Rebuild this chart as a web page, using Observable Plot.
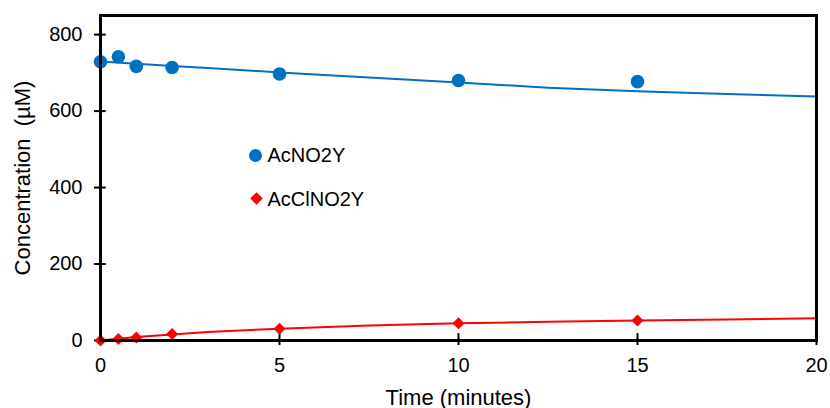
<!DOCTYPE html>
<html>
<head>
<meta charset="utf-8">
<script src="https://cdn.jsdelivr.net/npm/d3@7"></script>
<script src="https://cdn.jsdelivr.net/npm/@observablehq/plot@0.6"></script>
<style>
  html, body { margin: 0; padding: 0; background: #fff; }
  #chart { width: 830px; height: 408px; }
  svg { font-family: Arial, "Liberation Sans", sans-serif; }
</style>
</head>
<body>
<div id="chart"></div>
<script>
// Measured data points
const timePts = [0, 0.5, 1, 2, 5, 10, 15];
const acNO2Y = [729, 742, 717, 714, 697, 680, 677];
const acClNO2Y = [0, 4, 8, 17, 31, 45, 52];

// Fitted curves
const fitTime = [0, 1, 2, 3, 5, 7.5, 10, 12.5, 15, 17.5, 20];
const fitAcNO2Y = [730, 724, 718, 713, 701, 688, 675, 661, 652, 645, 638];
const fitAcClNO2Y = [0, 9, 16, 22, 31, 39, 45, 49, 52, 55, 58];

const seriesNames = ["AcNO2Y", "AcClNO2Y"];
const xTicks = [0, 5, 10, 15, 20];
const yTicks = [0, 200, 400, 600, 800];

const pts1 = timePts.map((t, i) => ({t, v: acNO2Y[i]}));
const pts2 = timePts.map((t, i) => ({t, v: acClNO2Y[i]}));
const fit1 = fitTime.map((t, i) => ({t, v: fitAcNO2Y[i]}));
const fit2 = fitTime.map((t, i) => ({t, v: fitAcClNO2Y[i]}));

const blue = "#0070C0", red = "#FF0000";

const chart = Plot.plot({
  width: 830,
  height: 408,
  marginLeft: 100,
  marginRight: 14,
  marginTop: 15,
  marginBottom: 68,
  style: {fontFamily: "Arial, 'Liberation Sans', sans-serif", fontSize: "20px", color: "#000", background: "#fff"},
  x: {domain: [0, 20]},
  y: {domain: [0, 850]},
  marks: [
    Plot.axisX({ticks: xTicks, tickSize: 5, tickPadding: 12, fontSize: 20, label: null, strokeWidth: 2}),
    Plot.axisX({ticks: [], label: "Time (minutes)", labelAnchor: "center", labelArrow: "none", labelOffset: 64, fontSize: 22}),
    Plot.axisY({ticks: yTicks, tickSize: 6, tickPadding: 12, fontSize: 20, label: null, strokeWidth: 2}),
    Plot.axisY({ticks: [], label: "Concentration  (µM)", labelAnchor: "center", labelArrow: "none", labelOffset: 86, fontSize: 22}),
    Plot.ruleX(xTicks, {y1: 0, y2: 18, stroke: "black", strokeWidth: 2}),
    Plot.ruleY(yTicks, {x1: 0, x2: 0.16, stroke: "black", strokeWidth: 2}),
    Plot.line(fit1, {x: "t", y: "v", stroke: blue, strokeWidth: 2}),
    Plot.line(fit2, {x: "t", y: "v", stroke: red, strokeWidth: 2}),
    Plot.dot(pts1, {x: "t", y: "v", r: 6.8, fill: blue, symbol: "circle"}),
    Plot.dot(pts2, {x: "t", y: "v", r: 5.4, fill: red, symbol: "diamond2"}),
    Plot.frame({stroke: "black", strokeWidth: 3}),
    // legend
    Plot.dot([seriesNames[0]], {frameAnchor: "top-left", dx: 155, dy: 140, r: 6.5, fill: blue, symbol: "circle"}),
    Plot.text([seriesNames[0]], {frameAnchor: "top-left", dx: 167, dy: 140, text: d => d, textAnchor: "start", lineAnchor: "middle", fontSize: 20, fill: "black"}),
    Plot.dot([seriesNames[1]], {frameAnchor: "top-left", dx: 156, dy: 183, r: 5.6, fill: red, symbol: "diamond2"}),
    Plot.text([seriesNames[1]], {frameAnchor: "top-left", dx: 167, dy: 184, text: d => d, textAnchor: "start", lineAnchor: "middle", fontSize: 20, fill: "black"})
  ]
});
document.getElementById("chart").appendChild(chart);
</script>
</body>
</html>
